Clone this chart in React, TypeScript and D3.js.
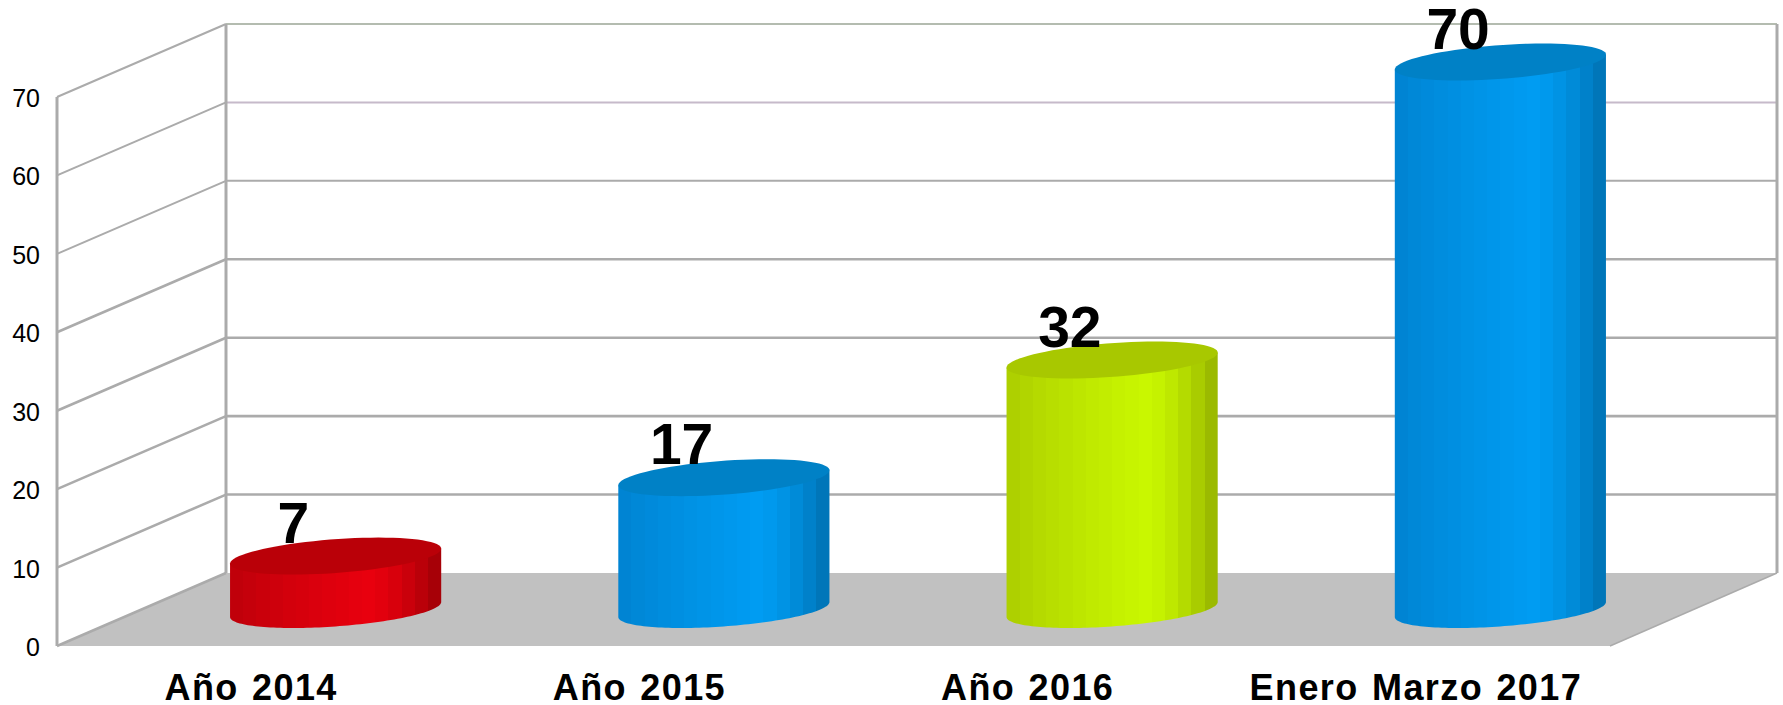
import React from "react";
import * as d3 from "d3";

const categories = ["Año 2014", "Año 2015", "Año 2016", "Enero Marzo 2017"];
const values = [7, 17, 32, 70];
const valueLabels = ["7", "17", "32", "70"];
const yTicks = [0, 10, 20, 30, 40, 50, 60, 70];
const sideLeft = ["#BC000A", "#0082D0", "#ABCC00", "#0082D0"];
const sideMid = ["#E8000E", "#009CF2", "#C9F700", "#009CF2"];
const sideRight = ["#9C0006", "#0070B0", "#94B000", "#0070B0"];
const topFill = ["#BA0008", "#0081C6", "#A8C800", "#0081C6"];

const W = 1783;
const H = 705;
const DX = 169; // depth offset of the back wall
const DY = -73;
const AX = 96.5;
const BY = 18.5;
const SKEW = -DX / DY;
const GRID = "#ABABAB";
const TOP_NUDGE = 1.5;

const x = d3.scaleBand<string>().domain(categories).range([57, 1610]);
const y = d3.scaleLinear().domain([0, 70]).range([646, 97]);

const backLine = (t: number) => (t === 60 ? "#C6BACA" : t === 70 ? "#B4BCB0" : GRID);

const ellipsePoint = (t: number): [number, number] => [
  AX * Math.cos(t) + SKEW * BY * Math.sin(t),
  -BY * Math.sin(t),
];
const tLeft = Math.PI + Math.atan2(SKEW * BY, AX);
const tRight = Math.atan2(SKEW * BY, AX);
const line = d3.line();
const sweep = (a: number, b: number, cx: number, cy: number): [number, number][] =>
  d3.range(81).map((i) => {
    const p = ellipsePoint(a + ((b - a) * i) / 80);
    return [cx + p[0], cy + p[1]];
  });

const BANDS = 16;
const bandStops = (i: number) => {
  const left = d3.interpolateRgb(sideLeft[i], sideMid[i]);
  const right = d3.interpolateRgb(sideMid[i], sideRight[i]);
  const out: { o: number; c: string }[] = [];
  for (let k = 0; k < BANDS; k++) {
    const u = (k + 0.5) / BANDS;
    const c = u < 0.65 ? left(Math.pow(u / 0.65, 0.8)) : right(Math.pow((u - 0.65) / 0.35, 1.6));
    out.push({ o: k / BANDS, c }, { o: (k + 1) / BANDS, c });
  }
  return out;
};

export default function App() {
  const xLeft = x.range()[0];
  const xRight = x.range()[1];
  const y0 = y(0);
  const yTop = y(70);
  return (
    <svg
      width={W}
      height={H}
      viewBox={`0 0 ${W} ${H}`}
      style={{ position: "absolute", left: 0, top: 0, background: "#fff" }}
      fontFamily="'Liberation Sans', Arial, sans-serif"
    >
      <defs>
        {categories.map((_, i) => (
          <linearGradient id={`side${i}`} key={i} x1="0" x2="1" y1="0" y2="0">
            {bandStops(i).map((s, k) => (
              <stop key={k} offset={s.o} stopColor={s.c} />
            ))}
          </linearGradient>
        ))}
      </defs>

      {/* floor */}
      <polygon
        points={[
          [xLeft, y0],
          [xLeft + DX, y0 + DY],
          [xRight + DX - 2, y0 + DY],
          [xRight, y0],
        ]
          .map((p) => p.join(","))
          .join(" ")}
        fill="#C1C1C1"
      />
      <line x1={xRight} y1={y0} x2={xRight + DX - 2} y2={y0 + DY} stroke={GRID} strokeWidth={1.5} />

      {/* walls */}
      {yTicks.map((t) => (
        <g key={t} strokeWidth={t >= 50 ? 2 : 2.6}>
          <line x1={xLeft} y1={y(t)} x2={xLeft + DX} y2={y(t) + DY} stroke={GRID} />
          {t > 0 && (
            <line
              x1={xLeft + DX}
              y1={y(t) + DY}
              x2={xRight + DX - 2}
              y2={y(t) + DY}
              stroke={backLine(t)}
            />
          )}
        </g>
      ))}
      <line x1={xLeft} y1={yTop} x2={xLeft} y2={y0} stroke={GRID} strokeWidth={3} />
      <line x1={xLeft + DX} y1={yTop + DY} x2={xLeft + DX} y2={y0 + DY} stroke={GRID} strokeWidth={3} />
      <line x1={xRight + DX - 2} y1={yTop + DY} x2={xRight + DX - 2} y2={y0 + DY} stroke={GRID} strokeWidth={3} />

      {/* tick labels */}
      {yTicks.map((t) => (
        <text key={t} x={40} y={y(t) + 10} textAnchor="end" fontSize={25} fill="#000">
          {t}
        </text>
      ))}

      {/* cylinders */}
      {categories.map((c, i) => {
        const cx = x(c)! + x.bandwidth() / 2 + DX / 2;
        const yb = y(0) + DY / 2;
        const yt = y(values[i]) + DY / 2 + TOP_NUDGE;
        const body: [number, number][] = [
          ...sweep(tLeft, tRight + 2 * Math.PI, cx, yb),
          ...sweep(tRight, tRight, cx, yt).slice(0, 1),
          ...sweep(tLeft, tLeft, cx, yt).slice(0, 1),
        ];
        return (
          <g key={c}>
            <path d={line(body)! + "Z"} fill={`url(#side${i})`} />
            <path d={line(sweep(0, 2 * Math.PI, cx, yt))! + "Z"} fill={topFill[i]} />
          </g>
        );
      })}

      {/* value labels */}
      {categories.map((c, i) => (
        <text
          key={c}
          x={x(c)! + x.bandwidth() / 2 + DX / 4}
          y={y(values[i]) + DY / 2 - 12}
          textAnchor="middle"
          fontSize={57}
          fontWeight="bold"
          fill="#000"
        >
          {valueLabels[i]}
        </text>
      ))}

      {/* category labels */}
      {categories.map((c) => (
        <text
          key={c}
          x={x(c)! + x.bandwidth() / 2}
          y={700}
          textAnchor="middle"
          fontSize={36}
          fontWeight="bold"
          letterSpacing={1.4}
          wordSpacing={2}
          fill="#000"
        >
          {c}
        </text>
      ))}
    </svg>
  );
}
